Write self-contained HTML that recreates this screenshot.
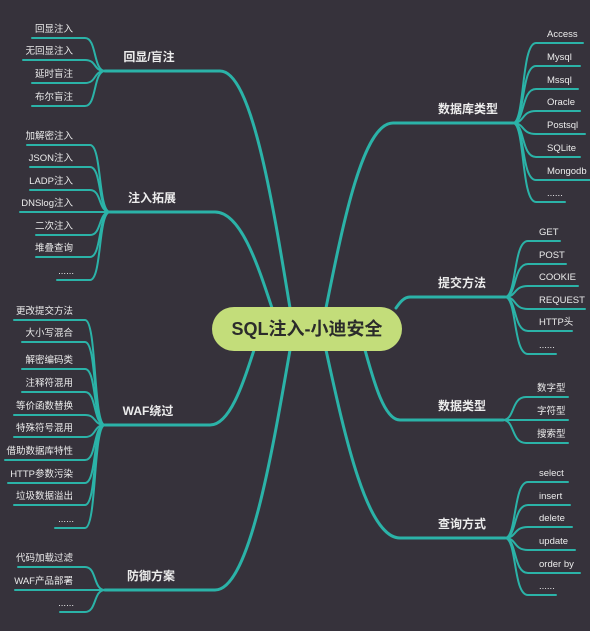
<!DOCTYPE html>
<html><head><meta charset="utf-8">
<style>
html,body{margin:0;padding:0;background:#36323b;}
svg{display:block;}
text{font-family:"Liberation Sans","Noto Sans CJK SC",sans-serif;fill:#ececec;}
.t{font-weight:bold;font-size:12px;}
.c{font-size:9.5px;}
</style></head>
<body>
<svg id="map" width="590" height="631" viewBox="0 0 590 631" xmlns="http://www.w3.org/2000/svg">
<rect x="0" y="0" width="590" height="631" fill="#36323b"/>
<g id="links"></g>
<g id="labels"></g>
<g>
<rect x="212" y="307" width="190" height="44" rx="22" fill="#c3dd7a"/>
<text x="307" y="335" text-anchor="middle" style="font-size:18px;font-weight:bold;fill:#2b2b2b">SQL注入-小迪安全</text>
</g>
</svg>
<script>
// topics
const topicNames = ["回显/盲注","注入拓展","WAF绕过","防御方案","数据库类型","提交方法","数据类型","查询方式"];
const topicSide = ["L","L","L","L","R","R","R","R"];
const topicY = [71,212,425,590,123,297,420,538];
const children0 = ["回显注入","无回显注入","延时盲注","布尔盲注"];
const children1 = ["加解密注入","JSON注入","LADP注入","DNSlog注入","二次注入","堆叠查询","......"];
const children2 = ["更改提交方法","大小写混合","解密编码类","注释符混用","等价函数替换","特殊符号混用","借助数据库特性","HTTP参数污染","垃圾数据溢出","......"];
const children3 = ["代码加载过滤","WAF产品部署","......"];
const children4 = ["Access","Mysql","Mssql","Oracle","Postsql","SQLite","Mongodb","......"];
const children5 = ["GET","POST","COOKIE","REQUEST","HTTP头","......"];
const children6 = ["数字型","字符型","搜索型"];
const children7 = ["select","insert","delete","update","order by","......"];
const childLineY0 = [38,60,83,106];
const childLineY1 = [145,167,190,212,235,257,280];
const childLineY2 = [320,342,369,392,415,437,460,483,505,528];
const childLineY3 = [567,590,612];
const childLineY4 = [43,66,89,111,134,157,180,202];
const childLineY5 = [241,264,286,309,331,354];
const childLineY6 = [397,420,443];
const childLineY7 = [482,505,527,550,573,595];

const allChildren=[children0,children1,children2,children3,children4,children5,children6,children7];
const allY=[childLineY0,childLineY1,childLineY2,childLineY3,childLineY4,childLineY5,childLineY6,childLineY7];
// layout (not data)
const nodeAnchor=[[290,308],[272,308],[254,350],[290,350],[326,308],[396,308],[365,350],[326,350]];
const forkX=[105,110,105,105,513,505,503,505];
const trunkEnd=[220,215,210,215,393,410,400,400];
const labelX=[149,152,148,151,468,462,462,462];
const leftStarts=[[32,23,32,32],[27,30,30,20,36,36,57],[14,22,22,22,14,14,5,8,14,55],[18,15,60]];
const rightEnds=[[583,580,578,580,585,580,590,565],[560,566,578,585,572,556],[568,568,568],[568,570,572,575,580,556]];

const NS="http://www.w3.org/2000/svg";
const links=document.getElementById('links'), labels=document.getElementById('labels');
const COL="#2bb3a8";
function path(d,w){const p=document.createElementNS(NS,'path');p.setAttribute('d',d);p.setAttribute('fill','none');p.setAttribute('stroke',COL);p.setAttribute('stroke-width',w);p.setAttribute('stroke-linecap','round');links.appendChild(p);return p;}
function txt(x,y,s,cls,anchor){const t=document.createElementNS(NS,'text');t.setAttribute('x',x);t.setAttribute('y',y);t.setAttribute('class',cls);t.setAttribute('text-anchor',anchor);t.textContent=s;labels.appendChild(t);return t;}

topicNames.forEach((name,i)=>{
  const ty=topicY[i], L=topicSide[i]==="L";
  const [nx,ny]=nodeAnchor[i];
  const te=trunkEnd[i], fx=forkX[i];
  const dx=nx-te, dy=ny-ty;
  const tp=path(`M${fx} ${ty} L${te} ${ty} C${te+dx*0.45} ${ty} ${nx-dx*0.25} ${ny-dy*0.45} ${nx} ${ny}`,3);
  
  
  const tl=txt(labelX[i],ty-10,name,'t','middle');
  
  
  const kids=allChildren[i], ys=allY[i];
  kids.forEach((k,j)=>{
    const cy=ys[j];
    let d, tx, anchor;
    if(L){
      const cx=fx-20, sx=leftStarts[i][j];
      d=`M${fx} ${ty} C${fx-12} ${ty} ${fx-8} ${cy} ${cx} ${cy} L${sx} ${cy}`;
      tx=73; anchor='end';
      if(k==="......"){tx=74;}
    } else {
      const cx=fx+23, ex=rightEnds[i-4][j];
      d=`M${fx} ${ty} C${fx+12} ${ty} ${fx+8} ${cy} ${cx} ${cy} L${ex} ${cy}`;
      tx=cx+11; anchor='start';
    }
    const cp=path(d,2);
    
    
    const ct=txt(tx,cy-6,k,'c',anchor);
    
    
  });
});
</script>
</body></html>
